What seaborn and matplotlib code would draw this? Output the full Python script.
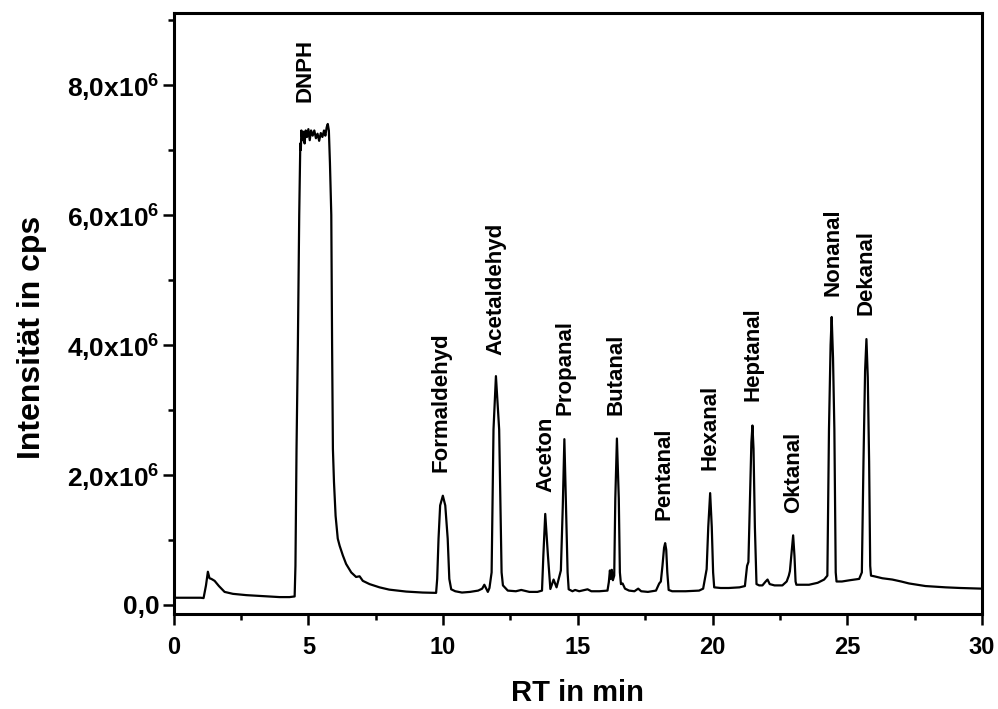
import numpy as np
import pandas as pd
import matplotlib
matplotlib.use("Agg")
import matplotlib.pyplot as plt
import seaborn as sns
from matplotlib.ticker import MultipleLocator, FuncFormatter

# chromatogram trace (RT in min, intensity in 10^6 cps)
rt_min = [
    0.0, 0.5, 1.0, 1.11, 1.2, 1.27, 1.33, 1.4, 1.52, 1.68, 1.89, 2.2, 2.7, 3.3, 3.93, 4.3,
    4.49, 4.52, 4.56, 4.61, 4.66, 4.70, 4.72, 4.74, 4.78, 4.82, 4.86, 4.90, 4.95, 5.00, 5.05,
    5.10, 5.16, 5.22, 5.28, 5.34, 5.40, 5.46, 5.52, 5.58, 5.63, 5.68, 5.72, 5.76, 5.80, 5.85,
    5.88, 5.91, 5.95, 6.01, 6.09, 6.16, 6.28, 6.40, 6.59, 6.77, 6.90, 7.02, 7.27, 7.64, 8.0,
    8.63, 9.24, 9.74, 9.78, 9.83, 9.89, 9.99, 10.08, 10.17, 10.23, 10.3, 10.45, 10.7, 11.0,
    11.3, 11.45, 11.53, 11.6, 11.66, 11.72, 11.80, 11.87, 11.96, 12.08, 12.17, 12.22, 12.4,
    12.7, 12.9, 13.2, 13.5, 13.67, 13.72, 13.79, 13.89, 13.98, 14.1, 14.21, 14.32, 14.37,
    14.44, 14.50, 14.56, 14.62, 14.66, 14.8, 14.9, 15.05, 15.36, 15.5, 15.8, 16.1, 16.15,
    16.19, 16.22, 16.26, 16.30, 16.35, 16.39, 16.45, 16.52, 16.56, 16.6, 16.66, 16.75, 16.9,
    17.1, 17.24, 17.35, 17.6, 17.9, 18.02, 18.08, 18.14, 18.2, 18.24, 18.28, 18.32, 18.37,
    18.5, 19.0, 19.5, 19.65, 19.73, 19.78, 19.84, 19.91, 19.97, 20.02, 20.06, 20.3, 20.6,
    21.0, 21.2, 21.28, 21.33, 21.38, 21.44, 21.48, 21.52, 21.57, 21.63, 21.73, 21.85, 21.97,
    22.04, 22.12, 22.3, 22.59, 22.75, 22.83, 22.87, 22.93, 22.99, 23.04, 23.08, 23.11, 23.3,
    23.58, 23.9, 24.14, 24.26, 24.32, 24.38, 24.42, 24.47, 24.52, 24.57, 24.6, 24.8, 25.1,
    25.44, 25.54, 25.6, 25.66, 25.71, 25.76, 25.81, 25.85, 25.88, 26.0, 26.3, 26.67, 27.0,
    27.29, 27.6, 27.9, 28.3, 28.65, 29.2, 30.0,
]
intensity_mcps = [
    0.11, 0.11, 0.11, 0.105, 0.3, 0.51, 0.41, 0.40, 0.37, 0.29, 0.20, 0.17, 0.15, 0.135, 0.12, 0.12,
    0.13, 0.6, 2.4, 4.0, 6.0, 7.1, 7.0, 7.3, 7.15, 7.28, 7.1, 7.3, 7.2, 7.32, 7.15,
    7.3, 7.22, 7.3, 7.18, 7.25, 7.14, 7.26, 7.2, 7.3, 7.22, 7.35, 7.4, 7.3, 6.8, 6.0,
    4.0, 2.4, 1.89, 1.37, 1.02, 0.91, 0.76, 0.63, 0.50, 0.43, 0.44, 0.37, 0.32, 0.27, 0.235,
    0.205, 0.19, 0.185, 0.4, 1.02, 1.53, 1.68, 1.53, 1.02, 0.4, 0.24, 0.21, 0.19, 0.2,
    0.22, 0.25, 0.31, 0.25, 0.2, 0.26, 0.5, 2.7, 3.52, 2.7, 0.5, 0.3, 0.22,
    0.21, 0.23, 0.2, 0.2, 0.22, 0.76, 1.4, 0.76, 0.245, 0.39, 0.27, 0.45, 0.53,
    1.5, 2.55, 1.5, 0.5, 0.24, 0.21, 0.23, 0.21, 0.24, 0.21, 0.21, 0.22, 0.35,
    0.53, 0.4, 0.54, 0.38, 0.45, 1.63, 2.56, 1.63, 0.5, 0.32, 0.33, 0.25, 0.22,
    0.21, 0.25, 0.21, 0.2, 0.22, 0.33, 0.36, 0.6, 0.88, 0.95, 0.85, 0.5, 0.23,
    0.21, 0.21, 0.22, 0.25, 0.43, 0.55, 1.2, 1.72, 1.2, 0.5, 0.27, 0.26, 0.26,
    0.27, 0.29, 0.6, 0.66, 1.5, 2.5, 2.76, 2.4, 1.2, 0.32, 0.3, 0.3, 0.36,
    0.39, 0.32, 0.3, 0.3, 0.36, 0.45, 0.52, 0.8, 1.07, 0.75, 0.36, 0.31, 0.31,
    0.31, 0.34, 0.39, 0.45, 2.7, 4.0, 4.43, 3.8, 2.7, 0.5, 0.36, 0.36, 0.38,
    0.4, 0.5, 2.2, 3.6, 4.09, 3.5, 2.2, 0.6, 0.45, 0.44, 0.41, 0.39, 0.36,
    0.33, 0.31, 0.29, 0.28, 0.27, 0.26, 0.25,
]

# peak labels: name, RT of label, lower end of label (10^6 cps)
peak_names = ["DNPH", "Formaldehyd", "Acetaldehyd", "Aceton", "Propanal", "Butanal",
              "Pentanal", "Hexanal", "Heptanal", "Oktanal", "Nonanal", "Dekanal"]
label_rt = [4.88, 9.94, 11.95, 13.81, 14.51, 16.43, 18.21, 19.90, 21.50, 22.99, 24.48, 25.71]
label_base_mcps = [7.74, 2.05, 3.85, 1.74, 2.92, 2.92, 1.31, 2.07, 3.13, 1.41, 4.75, 4.46]

df = pd.DataFrame({"rt": rt_min, "cps": np.array(intensity_mcps) * 1e6})

sns.set_theme(style="ticks")
plt.rcParams['font.family'] = ['Liberation Sans', 'DejaVu Sans']
plt.rcParams['font.weight'] = 'bold'
plt.rcParams['text.color'] = 'black'
plt.rcParams['axes.labelcolor'] = 'black'
plt.rcParams['xtick.color'] = 'black'
plt.rcParams['ytick.color'] = 'black'
plt.rcParams['mathtext.fontset'] = 'custom'
plt.rcParams['mathtext.rm'] = 'Liberation Sans:bold'
plt.rcParams['mathtext.bf'] = 'Liberation Sans:bold'
plt.rcParams['mathtext.it'] = 'Liberation Sans:bold'

fig, ax = plt.subplots(figsize=(9.98, 7.09), dpi=100)
fig.subplots_adjust(left=0.174, right=0.984, bottom=0.134, top=0.981)

sns.lineplot(data=df, x="rt", y="cps", color="black", linewidth=1.6,
             estimator=None, sort=False, ax=ax)

for name, x, y in zip(peak_names, label_rt, label_base_mcps):
    ax.text(x, y * 1e6, name, rotation=90, ha="center", va="bottom",
            fontsize=16, fontweight="bold", color="black")

ax.set_xlim(0, 30)
ax.set_ylim(-0.14e6, 9.1e6)
ax.xaxis.set_major_locator(MultipleLocator(5))
ax.xaxis.set_minor_locator(MultipleLocator(2.5))
ax.yaxis.set_major_locator(MultipleLocator(2e6))
ax.yaxis.set_minor_locator(MultipleLocator(1e6))


def y_fmt(v, pos):
    if abs(v) < 1:
        return "0,0"
    return ("%.1f" % (v / 1e6)).replace(".", ",") + "x10$^6$"


ax.yaxis.set_major_formatter(FuncFormatter(y_fmt))

for side in ["top", "right", "bottom", "left"]:
    ax.spines[side].set_visible(True)
    ax.spines[side].set_linewidth(2.2)
    ax.spines[side].set_color("black")

ax.tick_params(axis="both", which="major", direction="out", length=8, width=1.8,
               colors="black")
ax.tick_params(axis="both", which="minor", direction="out", length=4.5, width=1.8,
               colors="black")
ax.tick_params(axis="x", which="major", pad=8, labelsize=17)
ax.tick_params(axis="y", which="major", pad=2, labelsize=19)
for lab in ax.get_xticklabels() + ax.get_yticklabels():
    lab.set_fontweight("bold")

ax.set_xlabel("RT in min", fontsize=21, fontweight="bold", labelpad=14)
ax.set_ylabel("Intensität in cps", fontsize=23, fontweight="bold")
ax.yaxis.set_label_coords(-0.157, 0.461)
ax.grid(False)

fig.savefig("out.png", dpi=100, facecolor="white")
